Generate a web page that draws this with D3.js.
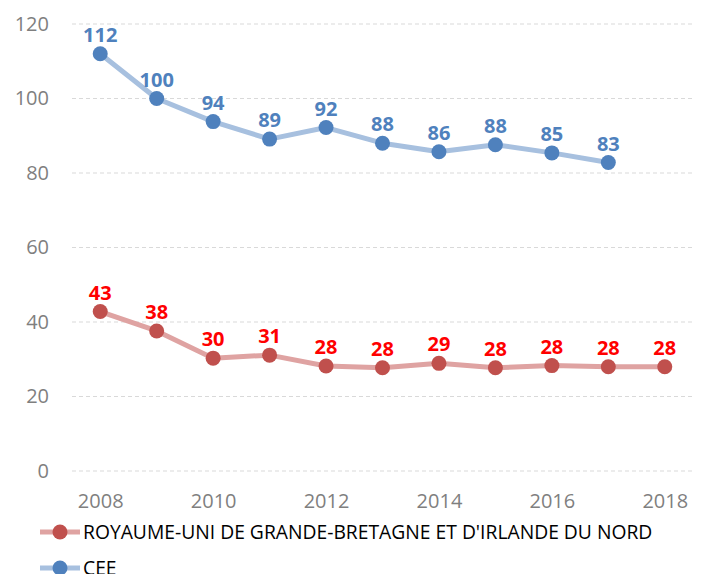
<!DOCTYPE html>
<html>
<head>
<meta charset="utf-8">
<script src="https://cdn.jsdelivr.net/npm/d3@7"></script>
<style>
  body { margin: 0; background: #fff; }
  svg { display: block; font-family: "Open Sans", sans-serif; }
</style>
</head>
<body>
<script>
// data
let years = [2008, 2009, 2010, 2011, 2012, 2013, 2014, 2015, 2016, 2017, 2018];
let ukValues = [42.8, 37.6, 30.3, 31.1, 28.2, 27.7, 28.9, 27.7, 28.3, 28.0, 28.0];
let ceeValues = [112, 100, 93.8, 89.1, 92.2, 88.0, 85.7, 87.6, 85.4, 82.8];
let yTicks = [0, 20, 40, 60, 80, 100, 120];
let xTicks = [2008, 2010, 2012, 2014, 2016, 2018];
let seriesNames = ["ROYAUME-UNI DE GRANDE-BRETAGNE ET D'IRLANDE DU NORD", "CEE"];

let width = 707, height = 574;

let svg = d3.select("body").append("svg")
  .attr("width", width)
  .attr("height", height);

// scales
let x = d3.scalePoint()
  .domain(years)
  .range([72, 693])
  .padding(0.5);

let y = d3.scaleLinear()
  .domain([0, 120])
  .range([471, 24]);

// gridlines
svg.append("g")
  .selectAll("line")
  .data(yTicks)
  .join("line")
  .attr("x1", 72).attr("x2", 693)
  .attr("y1", d => y(d)).attr("y2", d => y(d))
  .attr("stroke", "#d9d9d9")
  .attr("stroke-width", 1)
  .attr("stroke-dasharray", "4,3");

// y axis labels
let yAxis = d3.axisLeft(y).tickValues(yTicks).tickSize(0).tickPadding(0);
let yg = svg.append("g")
  .attr("transform", "translate(49,0)")
  .call(yAxis);
yg.select(".domain").remove();
yg.selectAll("text")
  .attr("fill", "#7f7f7f")
  .style("font-size", "20px")
  .style("font-family", "Open Sans, sans-serif");

// x axis labels
let xAxis = d3.axisBottom(x).tickValues(xTicks).tickSize(0).tickPadding(0);
let xg = svg.append("g")
  .attr("transform", "translate(0,494)")
  .call(xAxis);
xg.select(".domain").remove();
xg.selectAll("text")
  .attr("fill", "#7f7f7f")
  .style("font-size", "20px")
  .style("font-family", "Open Sans, sans-serif");

let series = [
  { name: seriesNames[0], values: ukValues, line: "#dfa3a2", dot: "#c0504d", label: "#ff0000" },
  { name: seriesNames[1], values: ceeValues, line: "#a7c0df", dot: "#4f81bd", label: "#4f81bd" }
];

let line = d3.line()
  .x((d, i) => x(years[i]))
  .y(d => y(d));

series.forEach(s => {
  let g = svg.append("g");
  g.append("path")
    .attr("d", line(s.values))
    .attr("fill", "none")
    .attr("stroke", s.line)
    .attr("stroke-width", 5)
    .attr("stroke-linejoin", "round");
  g.selectAll("circle")
    .data(s.values)
    .join("circle")
    .attr("cx", (d, i) => x(years[i]))
    .attr("cy", d => y(d))
    .attr("r", 7.5)
    .attr("fill", s.dot);
  g.selectAll("text")
    .data(s.values)
    .join("text")
    .attr("x", (d, i) => x(years[i]))
    .attr("y", d => y(d) - 12)
    .attr("text-anchor", "middle")
    .attr("fill", s.label)
    .style("font-size", "20px")
    .style("font-weight", "bold")
    .text(d => Math.round(d));
});

// legend
let legend = svg.append("g")
  .selectAll("g")
  .data(series)
  .join("g")
  .attr("transform", (d, i) => "translate(40," + (532 + i * 36) + ")");
legend.append("line")
  .attr("x1", 0).attr("x2", 40)
  .attr("stroke", d => d.line)
  .attr("stroke-width", 5);
legend.append("circle")
  .attr("cx", 20)
  .attr("r", 7.5)
  .attr("fill", d => d.dot);
legend.append("text")
  .attr("x", 43)
  .attr("dy", "0.35em")
  .attr("fill", "#000")
  .style("font-size", "19.3px")
  .text(d => d.name);
</script>
</body>
</html>
